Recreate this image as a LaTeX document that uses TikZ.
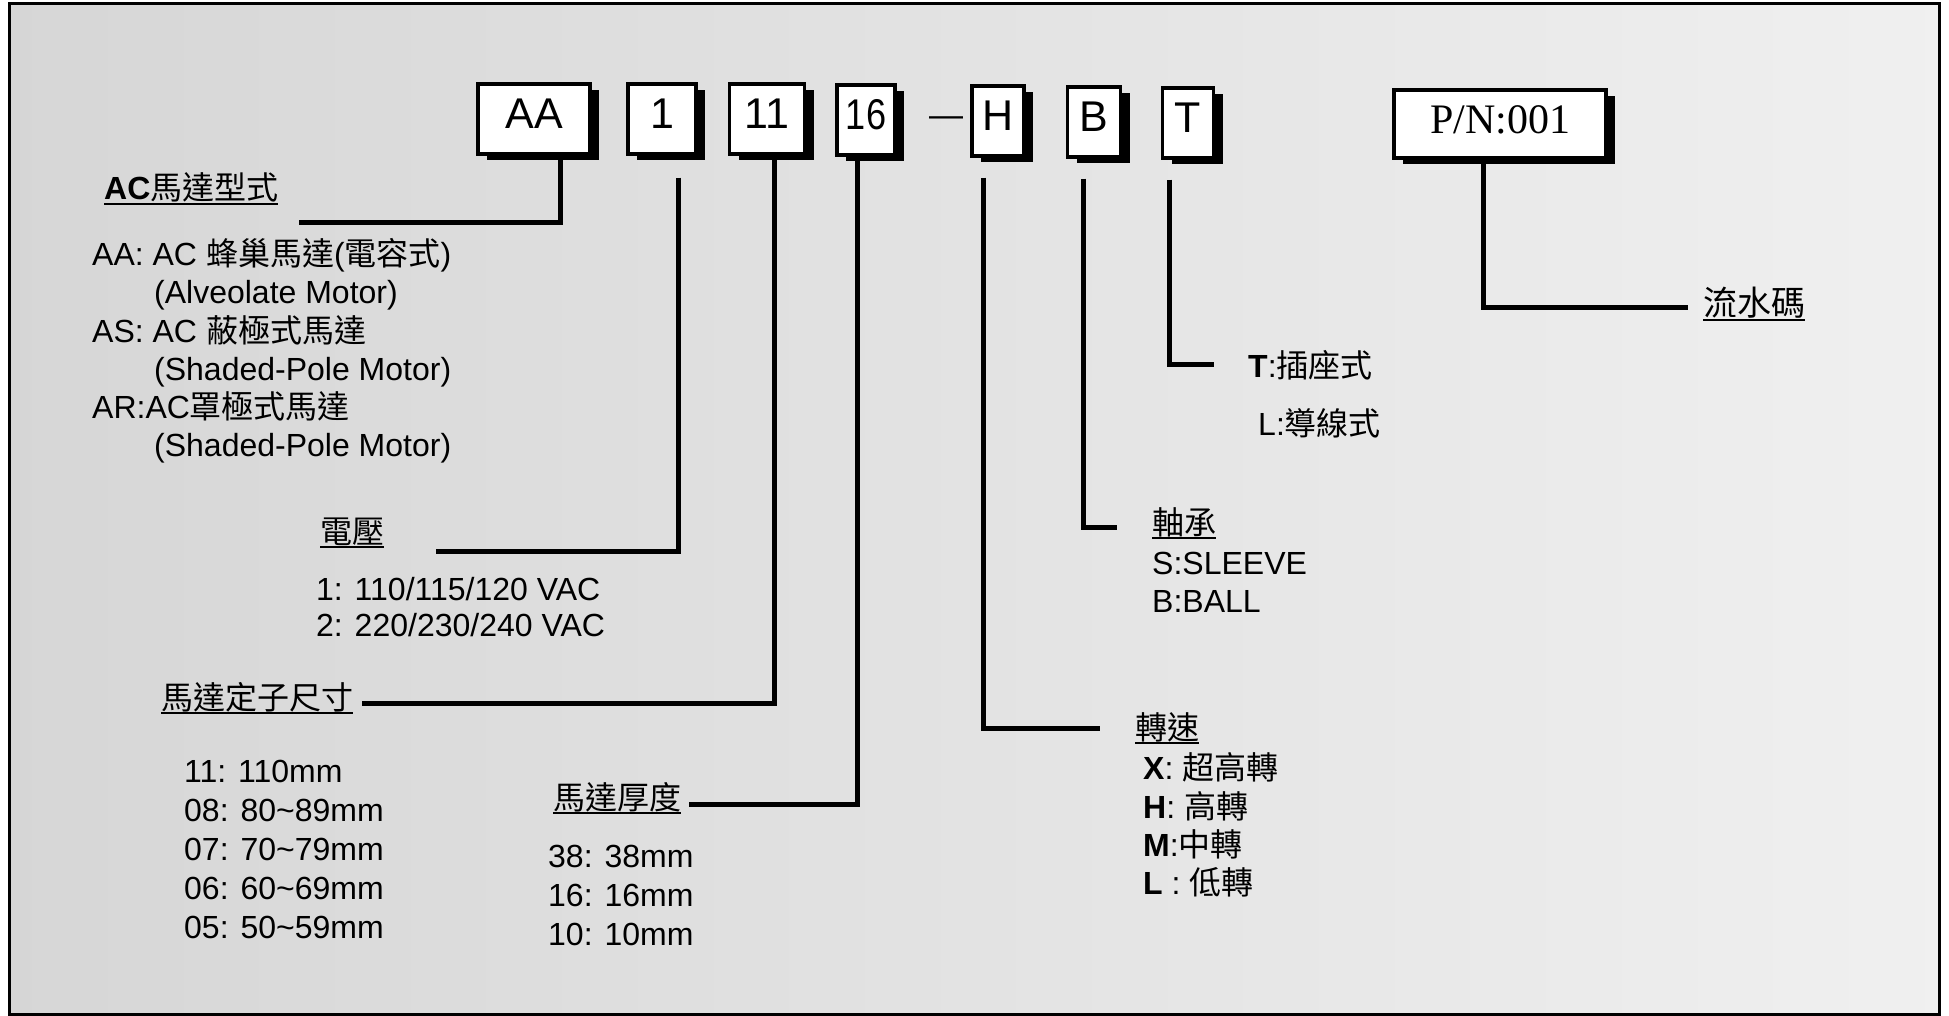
\documentclass[tikz,border=0pt]{standalone}
\usepackage{fontspec}
\setmainfont{Liberation Sans}
\newfontfamily\cjk{Noto Sans CJK TC}
\newfontfamily\pnfont{Liberation Serif}
\usetikzlibrary{positioning}
\usetikzlibrary{shadows}

\newsavebox\ulbox
\newcommand{\headul}[1]{\sbox\ulbox{#1}\usebox\ulbox\llap{\rule[-5pt]{\wd\ulbox}{2pt}}}

\tikzset{
  codebox/.style={draw, line width=3.5pt, fill=white, inner sep=0pt, minimum height=70pt,
    text height=31pt, text depth=12pt, font=\fontsize{43}{43}\selectfont,
    drop shadow={shadow xshift=9pt, shadow yshift=-6pt, fill=black, opacity=1}},
  leader/.style={line width=5pt},
  item/.style={anchor=base west, inner sep=0pt, font=\fontsize{32}{38}\selectfont},
}

\begin{document}
\begin{tikzpicture}[x=1pt, y=-1pt]
    \useasboundingbox (0,0) rectangle (1949,1016);
    % Frame
    \shade[left color=black!16, right color=black!6] (9,4) rectangle (1939,1014);
    \draw[line width=3pt] (9,4) rectangle (1939,1014);

    % Code boxes
    \node[codebox, minimum width=112pt] (aa) at (534,119) {AA};
    \node[codebox, minimum width=68pt] (volt) at (662,119) {1};
    \node[codebox, minimum width=75pt] (size) at (767,119) {11};
    \node[codebox, minimum width=58pt] (thick) at (866,120) {\scalebox{0.84}[1]{16}};
    \node[anchor=base, inner sep=0pt, font=\fontsize{34}{34}\selectfont] (dash) at (946,127) {---};
    \node[codebox, minimum width=52pt] (speed) at (998,121) {H};
    \node[codebox, minimum width=53pt] (bear) at (1094,122) {B};
    \node[codebox, minimum width=51pt] (term) at (1188,123) {T};
    \node[codebox, minimum width=212pt, minimum height=68pt, text height=28pt, text depth=8pt,
      font=\pnfont\fontsize{42}{42}\selectfont] (pn) at (1500,124) {P/N:001};

    % Motor type
    \node[item] (typehead) at (104,200) {\headul{\textbf{AC}\cjk 馬達型式}};
    \node[item] (typeaa) at (92,266) {AA: AC {\cjk 蜂巢馬達}({\cjk 電容式})};
    \node[below=38pt of typeaa.base west, item, xshift=62pt] (typeaa2) {(Alveolate Motor)};
    \node[below=76pt of typeaa.base west, item] (typeas) {AS: AC {\cjk 蔽極式馬達}};
    \node[below=38pt of typeas.base west, item, xshift=62pt] (typeas2) {(Shaded-Pole Motor)};
    \node[below=76pt of typeas.base west, item] (typear) {AR:AC{\cjk 罩極式馬達}};
    \node[below=38pt of typear.base west, item, xshift=62pt] (typear2) {(Shaded-Pole Motor)};

    % Voltage
    \node[item] (volthead) at (320,543) {\headul{\cjk 電壓}};
    \node[item] (volt1) at (316,600) {1: 110/115/120 VAC};
    \node[below=36pt of volt1.base west, item] (volt2) {2: 220/230/240 VAC};

    % Stator size
    \node[item] (sizehead) at (161,709) {\headul{\cjk 馬達定子尺寸}};
    \node[item] (size11) at (184,782) {11: 110mm};
    \node[below=39pt of size11.base west, item] (size08) {08: 80\textasciitilde 89mm};
    \node[below=39pt of size08.base west, item] (size07) {07: 70\textasciitilde 79mm};
    \node[below=39pt of size07.base west, item] (size06) {06: 60\textasciitilde 69mm};
    \node[below=39pt of size06.base west, item] (size05) {05: 50\textasciitilde 59mm};

    % Thickness
    \node[item] (thickhead) at (553,809) {\headul{\cjk 馬達厚度}};
    \node[item] (thick38) at (548,867) {38: 38mm};
    \node[below=39pt of thick38.base west, item] (thick16) {16: 16mm};
    \node[below=39pt of thick16.base west, item] (thick10) {10: 10mm};

    % Speed
    \node[item] (speedhead) at (1135,739) {\headul{\cjk 轉速}};
    \node[item] (speedx) at (1143,779) {\textbf{X}: {\cjk 超高轉}};
    \node[below=39pt of speedx.base west, item] (speedh) {\textbf{H}: {\cjk 高轉}};
    \node[below=38pt of speedh.base west, item] (speedm) {\textbf{M}:{\cjk 中轉}};
    \node[below=38pt of speedm.base west, item] (speedl) {\textbf{L} : {\cjk 低轉}};

    % Bearing
    \node[item] (bearhead) at (1152,534) {\headul{\cjk 軸承}};
    \node[item] (bears) at (1152,574) {S:SLEEVE};
    \node[below=38pt of bears.base west, item] (bearb) {B:BALL};

    % Terminal
    \node[item] (termt) at (1248,377) {\textbf{T}:{\cjk 插座式}};
    \node[item] (terml) at (1258,435) {L:{\cjk 導線式}};

    % Serial number
    \node[item, font=\fontsize{34}{34}\selectfont] (pnhead) at (1703,316) {\headul{\cjk 流水碼}};

    % Leaders
    \coordinate (aaend) at (299,223);
    \coordinate (voltend) at (436,551);
    \coordinate (sizeend) at (362,703);
    \coordinate (thickend) at (689,804);
    \coordinate (speedend) at (1100,728);
    \coordinate (bearend) at (1117,527);
    \coordinate (termend) at (1214,364);
    \coordinate (pnend) at (1688,308);
    \draw[leader] ([xshift=26pt]aa.south) |- (aaend);
    \draw[leader] ([xshift=16pt, yshift=-22pt]volt.south) |- (voltend);
    \draw[leader] ([xshift=7pt]size.south) |- (sizeend);
    \draw[leader] ([xshift=-9pt]thick.south) |- (thickend);
    \draw[leader] ([xshift=-15pt, yshift=-20pt]speed.south) |- (speedend);
    \draw[leader] ([xshift=-11pt, yshift=-20pt]bear.south) |- (bearend);
    \draw[leader] ([xshift=-19pt, yshift=-20pt]term.south) |- (termend);
    \draw[leader] ([xshift=-17pt]pn.south) |- (pnend);
\end{tikzpicture}
\end{document}
